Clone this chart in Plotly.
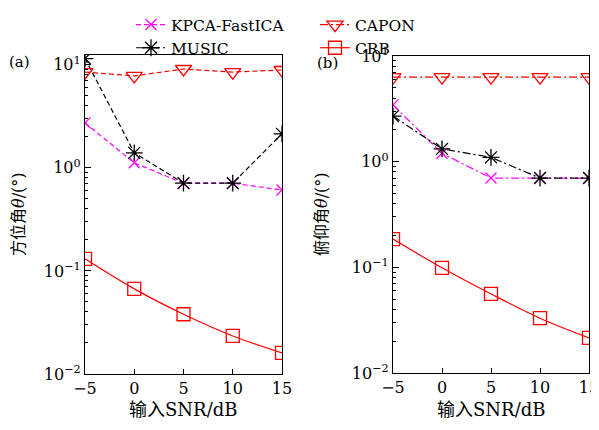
import plotly.graph_objects as go

snr = [-5, 0, 5, 10, 15]

# panel (a) azimuth
a_kpca = [2.73, 1.12, 0.71, 0.71, 0.61]
a_music = [11.5, 1.4, 0.71, 0.71, 2.14]
a_capon = [8.5, 7.8, 9.1, 8.5, 8.9]
a_crb = [0.131, 0.067, 0.038, 0.0234, 0.016]

# panel (b) elevation
b_kpca = [3.45, 1.2, 0.70, 0.70, 0.70]
b_music = [2.7, 1.32, 1.10, 0.70, 0.70]
b_capon = [6.3, 6.3, 6.3, 6.3, 6.3]
b_crb = [0.185, 0.099, 0.056, 0.033, 0.0215]

ytickvals = [0.01, 0.1, 1, 10]
yticktext = ["10<sup>−2</sup>", "10<sup>−1</sup>", "10<sup>0</sup>", "10<sup>1</sup>"]
yminor = [m * d for d in [0.01, 0.1, 1] for m in range(2, 10)]
xtickvals = [-5, 0, 5, 10, 15]
xticktext = ["−5", "0", "5", "10", "15"]

SERIF = "DejaVu Serif, Noto Sans CJK SC, serif"
MAG = "#ff00ff"
RED = "#ff0000"
BLK = "#000000"

DASH_A = "5px,3px"
DASHDOT_B = "8px,3px,2px,3px"

# page body has an 8px margin; lay out in window pixels and convert
OFF = 8
W, H = 599 - OFF, 430 - OFF


def px(x):
    return (x - OFF) / W


def py(y):
    return 1 - (y - OFF) / H


fig = go.Figure()


def add(x, y, color, symbol, msize, dash, name, xa, ya, legend="legend", showlegend=False, shape="linear"):
    fig.add_trace(go.Scatter(
        x=x, y=y, mode="lines+markers", name=name,
        line=dict(color=color, width=1.2, dash=dash, shape=shape),
        marker=dict(symbol=symbol, size=msize, color=color,
                    line=dict(color=color, width=1.3)),
        xaxis=xa, yaxis=ya, showlegend=showlegend,
        legend=legend,
    ))


# panel a
add(snr, a_kpca, MAG, "x-thin-open", 11, DASH_A, "KPCA-FastICA", "x", "y", "legend", True)
add(snr, a_music, BLK, "asterisk-open", 14, DASH_A, "MUSIC", "x", "y")
add(snr, a_capon, RED, "triangle-down-open", 14, DASH_A, "CAPON", "x", "y")
add(snr, a_crb, RED, "square-open", 13, "solid", "CRB", "x", "y", shape="spline")

# panel b
add(snr, b_kpca, MAG, "x-thin-open", 11, DASHDOT_B, "KPCA-FastICA", "x2", "y2")
add(snr, b_music, BLK, "asterisk-open", 14, DASHDOT_B, "MUSIC", "x2", "y2", "legend", True)
add(snr, b_capon, RED, "triangle-down-open", 14, DASHDOT_B, "CAPON", "x2", "y2", "legend2", True)
add(snr, b_crb, RED, "square-open", 13, "solid", "CRB", "x2", "y2", "legend2", True, shape="spline")


def xax(domain, anchor):
    return dict(
        domain=domain, anchor=anchor, range=[-5, 15], automargin=False,
        tickvals=xtickvals, ticktext=xticktext, ticklabeloverflow="allow",
        ticks="inside", ticklen=5, tickcolor=BLK, tickwidth=1,
        showline=True, linecolor=BLK, linewidth=1.3, mirror=True,
        showgrid=False, zeroline=False,
        tickfont=dict(family=SERIF, size=16, color=BLK),
    )


def yax(domain, anchor, rng):
    return dict(
        domain=domain, anchor=anchor, type="log", range=rng, automargin=False,
        tickvals=ytickvals, ticktext=yticktext, ticklabeloverflow="allow",
        ticks="inside", ticklen=6, tickcolor=BLK, tickwidth=1,
        minor=dict(tickvals=yminor, ticks="inside", ticklen=3, tickcolor=BLK,
                   tickwidth=1, showgrid=False),
        showline=True, linecolor=BLK, linewidth=1.3, mirror=True,
        showgrid=False, zeroline=False,
        tickfont=dict(family=SERIF, size=16, color=BLK),
    )


LEGFONT = dict(family=SERIF, size=15.5, color=BLK)


def ann(text, x, y, size, angle=0):
    return dict(text=text, x=px(x), y=py(y), xref="paper", yref="paper",
                showarrow=False, textangle=angle, xanchor="center", yanchor="middle",
                font=dict(family=SERIF, size=size, color=BLK))


fig.update_layout(
    width=W, height=H,
    margin=dict(l=0, r=0, t=0, b=0),
    paper_bgcolor="white", plot_bgcolor="white",
    xaxis=xax([px(85), px(282)], "y"),
    yaxis=yax([py(374), py(55)], "x", [-2, 1.095]),
    xaxis2=xax([px(393), px(589)], "y2"),
    yaxis2=yax([py(373), py(56)], "x2", [-2, 1.0]),
    legend=dict(x=px(131), y=1, xanchor="left", yanchor="top",
                orientation="v", bgcolor="rgba(0,0,0,0)",
                font=LEGFONT, itemwidth=30),
    legend2=dict(x=px(315), y=1, xanchor="left", yanchor="top",
                 orientation="v", bgcolor="rgba(0,0,0,0)",
                 font=LEGFONT, itemwidth=30),
    annotations=[
        ann("(a)", 20, 62, 15),
        ann("(b)", 327, 63, 15),
        ann("输入SNR/dB", 183, 409, 18),
        ann("输入SNR/dB", 491, 409, 18),
        ann("方位角<i>θ</i>/(°)", 18, 214, 16, -90),
        ann("俯仰角<i>θ</i>/(°)", 321, 214, 16, -90),
    ],
)

fig.write_html("out.html")
